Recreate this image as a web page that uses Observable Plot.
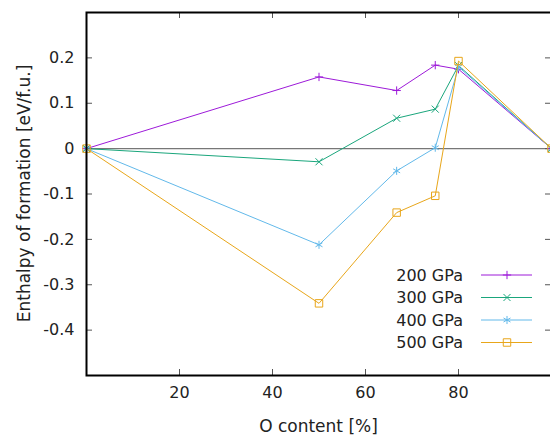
<!DOCTYPE html>
<html>
<head>
<meta charset="utf-8">
<script src="https://cdn.jsdelivr.net/npm/d3@7"></script>
<script src="https://cdn.jsdelivr.net/npm/@observablehq/plot@0.6"></script>
<style>
html, body { margin: 0; padding: 0; overflow: hidden; background: #fff; }
#chart { width: 550px; height: 437px; overflow: hidden; }
#chart svg { max-width: none !important; }
</style>
</head>
<body>
<div id="chart"></div>
<script>
const xVals = [0, 50, 66.7, 75, 80, 100];
const seriesNames = ["200 GPa", "300 GPa", "400 GPa", "500 GPa"];
const gpa200 = [0, 0.158, 0.128, 0.184, 0.175, 0];
const gpa300 = [0, -0.029, 0.067, 0.087, 0.183, 0];
const gpa400 = [0, -0.212, -0.049, 0.002, 0.180, 0];
const gpa500 = [0, -0.341, -0.141, -0.104, 0.193, 0];
const seriesValues = [gpa200, gpa300, gpa400, gpa500];
const colors = ["#9d1ad9", "#1aa67c", "#62b9ea", "#e8a61a"];
const symbols = ["plus", "times", "asterisk", "square"];
const symbolR = [2.8, 3.3, 3.8, 4.2];
const xTicks = [20, 40, 60, 80];
const yTicks = [-0.4, -0.3, -0.2, -0.1, 0, 0.1, 0.2];

const data = seriesNames.flatMap((s, i) =>
  xVals.map((x, j) => ({series: s, x, y: seriesValues[i][j]})));

const W = 552, H = 437, mL = 86, mR = 1, mT = 12, mB = 62;
const frameH = H - mT - mB, frameW = W - mL - mR;
const font = "DejaVu Sans, Verdana, sans-serif";

const marks = [
  Plot.ruleY([0], {stroke: "#777", strokeWidth: 1.3}),
  // inward ticks
  Plot.tickX(xTicks, {x: d => d, insetTop: frameH - 6, stroke: "#555", strokeWidth: 1}),
  Plot.tickX(xTicks, {x: d => d, insetBottom: frameH - 6, stroke: "#555", strokeWidth: 1}),
  Plot.tickY(yTicks, {y: d => d, insetRight: frameW - 6, stroke: "#555", strokeWidth: 1}),
  Plot.tickY(yTicks, {y: d => d, insetLeft: frameW - 6, stroke: "#555", strokeWidth: 1}),
  Plot.axisX({ticks: xTicks, tickSize: 0, tickPadding: 11, fontSize: 16, label: null}),
  Plot.axisY({ticks: yTicks, tickSize: 0, tickPadding: 12, fontSize: 16, label: null,
    tickFormat: d => d === 0 ? "0" : d3.format(".1f")(d).replace("−", "-")}),
];
seriesNames.forEach((s, i) => {
  const d = data.filter(r => r.series === s);
  marks.push(Plot.line(d, {x: "x", y: "y", stroke: colors[i], strokeWidth: 1}));
  marks.push(Plot.dot(d, {x: "x", y: "y", symbol: () => symbols[i], r: symbolR[i],
    fill: "none", stroke: colors[i], strokeWidth: 1}));
});
marks.push(Plot.frame({stroke: "black", strokeWidth: 2}));

const plot = Plot.plot({
  width: W, height: H,
  marginLeft: mL, marginRight: mR, marginTop: mT, marginBottom: mB,
  style: {fontFamily: font, fontSize: "16px", color: "#222", background: "white", overflow: "visible", maxWidth: "none"},
  x: {domain: [0, 100]},
  y: {domain: [-0.5, 0.3]},
  marks
});

const svg = d3.select(plot);
// axis labels
svg.append("text")
  .attr("x", mL + frameW / 2).attr("y", 432)
  .attr("text-anchor", "middle").attr("font-size", 17).attr("font-family", font)
  .attr("fill", "#222").text("O content [%]");
svg.append("text")
  .attr("transform", `translate(30,${mT + frameH / 2}) rotate(-90)`)
  .attr("text-anchor", "middle").attr("font-size", 17).attr("font-family", font)
  .attr("fill", "#222").text("Enthalpy of formation [eV/f.u.]");

// legend
const d3Symbols = {plus: d3.symbolPlus, times: d3.symbolTimes, asterisk: d3.symbolAsterisk, square: d3.symbolSquare};
const leg = svg.append("g");
seriesNames.forEach((s, i) => {
  const cy = 275 + i * 22.5;
  leg.append("text").attr("x", 463).attr("y", cy).attr("dy", "0.35em")
    .attr("text-anchor", "end").attr("font-size", 16).attr("font-family", font)
    .attr("fill", "#222").text(s);
  leg.append("line").attr("x1", 481).attr("x2", 532).attr("y1", cy).attr("y2", cy)
    .attr("stroke", colors[i]).attr("stroke-width", 1);
  leg.append("path")
    .attr("d", d3.symbol(d3Symbols[symbols[i]], Math.PI * symbolR[i] ** 2)())
    .attr("transform", `translate(507,${cy})`)
    .attr("fill", "none").attr("stroke", colors[i]).attr("stroke-width", 1);
});

document.getElementById("chart").appendChild(plot);
</script>
</body>
</html>
